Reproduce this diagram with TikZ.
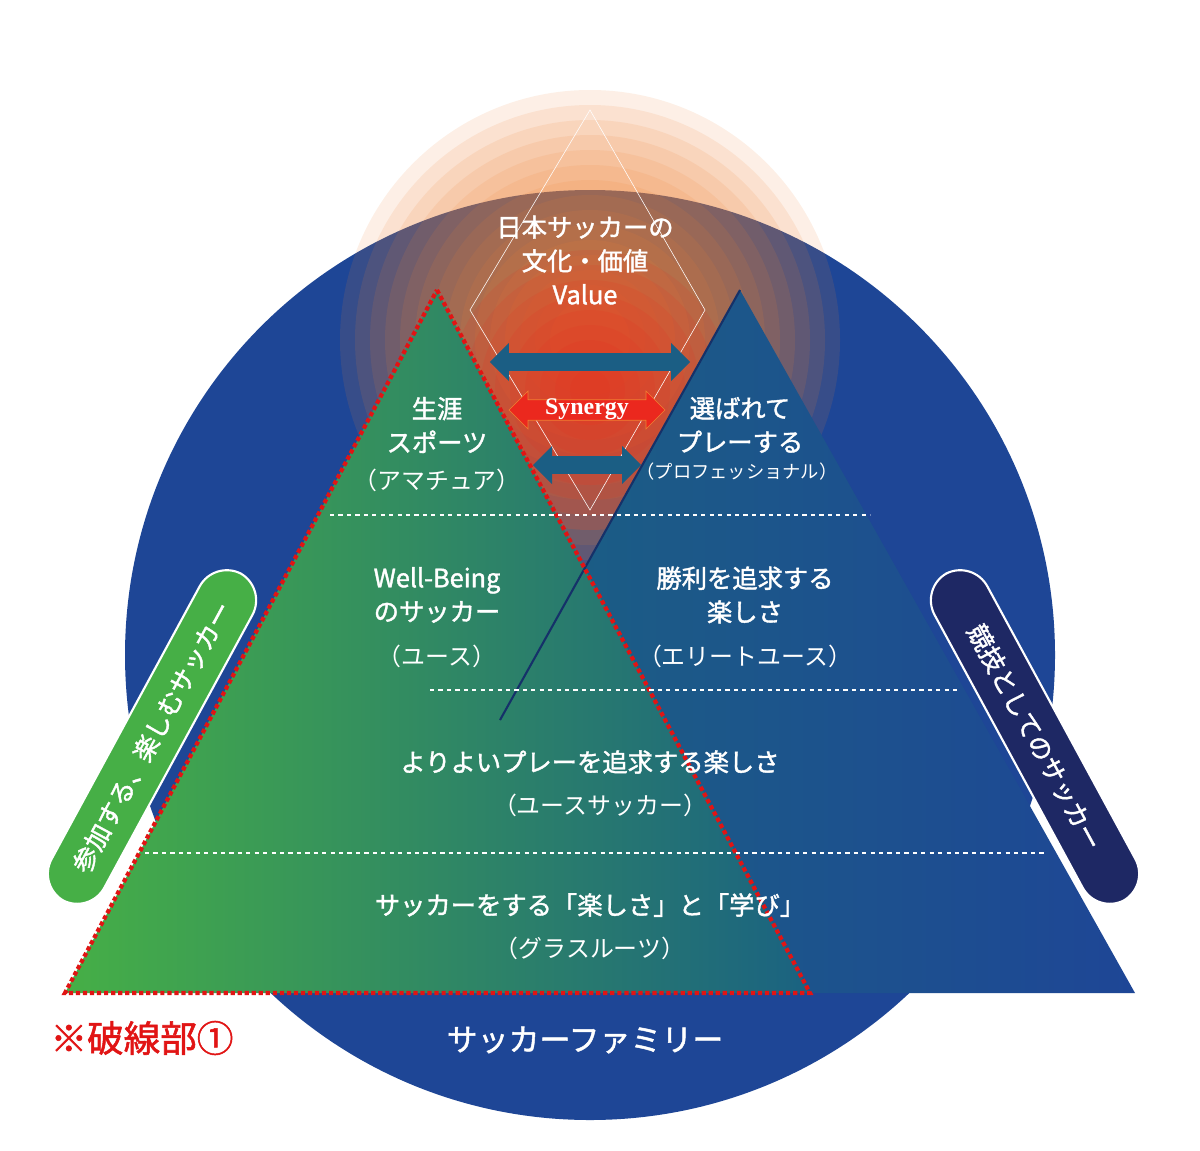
\documentclass[tikz,border=0pt]{standalone}
\usepackage{fontspec}
\setmainfont{Noto Sans CJK JP}
\newfontfamily\jpbold[FakeBold=1.5]{Noto Sans CJK JP}
\newfontfamily\serifb{Liberation Serif}
\usetikzlibrary{arrows.meta,shapes.arrows}
\definecolor{navy}{RGB}{30,70,150}
\definecolor{deepnavy}{RGB}{30,40,100}
\definecolor{grass}{RGB}{70,175,70}
\definecolor{teal}{RGB}{25,110,120}
\definecolor{glowred}{RGB}{235,40,30}
\definecolor{gloworange}{RGB}{240,130,50}
\definecolor{dotred}{RGB}{225,20,20}
\begin{document}
\begin{tikzpicture}[x=0.025cm, y=-0.025cm,
label/.style={text=white, font=\jpbold\fontsize{18}{24}\selectfont, align=center},
small/.style={text=white, font=\fontsize{13}{16}\selectfont},
level/.style={white, dashed, line width=0.8pt},
pill/.style={rounded corners=22pt, minimum width=9.3cm, minimum height=1.5cm, text=white, font=\jpbold\fontsize{18}{22}\selectfont},
twoway/.style={double arrow, double arrow head extend=6pt, minimum height=#1, minimum width=0.95cm, text height=0.35cm, inner sep=0pt}
]
\useasboundingbox (0,0) rectangle (1200,1150);
\fill[white] (0,0) rectangle (1200,1150);
% circle and glow
\fill[navy] (590,655) circle (465);
\foreach \r in {250,235,...,40}
  \fill[gloworange, opacity=0.12] (590,340) circle (\r);
\foreach \r in {140,125,...,20}
  \fill[glowred, opacity=0.12] (590,390) circle (\r);
\draw[white, line width=0.4pt] (590,110) -- (470,310) -- (590,510) -- (705,310) -- cycle;
% pyramids
\shade[left color=teal!80!navy, right color=navy] (740,290) -- (1135,993) -- (348,993) -- cycle;
\shade[left color=grass, right color=teal!70!navy, shading angle=90] (437,290) -- (810,993) -- (65,993) -- cycle;
\draw[navy!70!black, line width=1.5pt] (740,290) -- (500,720);
\draw[dotred, line width=3pt, dotted] (437,290) -- (810,993) -- (65,993) -- cycle;
% levels
\draw[level] (330,515) -- (870,515);
\draw[level] (430,690) -- (960,690);
\draw[level] (145,853) -- (1045,853);
% arrows
\node[twoway=5cm, fill=teal!60!navy] (topArrow) at (590,362) {};
\node[twoway=3.9cm, fill=glowred, draw=gloworange] (synergy) at (587,410) {\serifb\bfseries\fontsize{17}{20}\selectfont\textcolor{white}{Synergy}};
\node[twoway=2.7cm, fill=teal!60!navy] (lowArrow) at (587,465) {};
% texts
\node[label] (value) at (585,260) {日本サッカーの\\文化・価値\\{\mdseries Value}};
\node[label] (amateur) at (437,425) {生涯\\スポーツ};
\node[small, font=\fontsize{17}{20}\selectfont] (amateurSub) at (437,480) {（アマチュア）};
\node[label] (pro) at (740,425) {選ばれて\\プレーする};
\node[small] (proSub) at (737,472) {（プロフェッショナル）};
\node[label] (youth) at (437,595) {Well-Being\\のサッカー};
\node[small, font=\fontsize{17}{20}\selectfont] (youthSub) at (437,656) {（ユース）};
\node[label] (elite) at (745,595) {勝利を追求する\\楽しさ};
\node[small, font=\fontsize{17}{20}\selectfont] (eliteSub) at (745,656) {（エリートユース）};
\node[label] (better) at (590,762) {よりよいプレーを追求する楽しさ};
\node[small, font=\fontsize{17}{20}\selectfont] (betterSub) at (600,805) {（ユースサッカー）};
\node[label] (grass) at (590,905) {サッカーをする「楽しさ」と「学び」};
\node[small, font=\fontsize{17}{20}\selectfont] (grassSub) at (590,948) {（グラスルーツ）};
% side pills
\node[pill, fill=grass, draw=white, line width=1.5pt, rotate=61.5] (joinPill) at (152,737) {参加する、楽しむサッカー};
\node[pill, fill=deepnavy, draw=white, line width=1.5pt, rotate=-61.5] (sportPill) at (1035,737) {競技としてのサッカー};
% bottom
\node[label, font=\jpbold\fontsize{22}{26}\selectfont] (family) at (585,1040) {サッカーファミリー};
\node[text=dotred, font=\jpbold\fontsize{26}{30}\selectfont] (note) at (142,1038) {※破線部①};
\end{tikzpicture}
\end{document}
